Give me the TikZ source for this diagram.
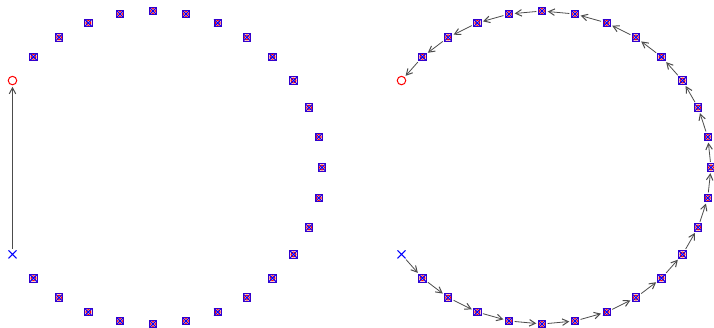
\documentclass[tikz,border=0pt]{standalone}
\usetikzlibrary{arrows.meta,shapes.misc}
\begin{document}
\begin{tikzpicture}[x=1pt,y=-1pt,
  mk/.style={rectangle,draw=blue!80!red,line width=0.8pt,minimum size=7.5pt,inner sep=0pt,fill=red!20,
    path picture={\draw[red,line width=0.9pt] (path picture bounding box.center) circle (2.4pt);
      \draw[blue,line width=1pt] (path picture bounding box.south west)--(path picture bounding box.north east)
        (path picture bounding box.north west)--(path picture bounding box.south east);}},
  startmk/.style={cross out,draw=blue,line width=1pt,minimum size=7pt,inner sep=0pt},
  endmk/.style={circle,draw=red,line width=1pt,minimum size=8.5pt,inner sep=0pt},
  arr/.style={draw=black!70,line width=0.8pt,-{Straight Barb[length=6pt,width=6.5pt,line width=1pt]},shorten >=1.5pt,shorten <=1.5pt}]
\useasboundingbox (0,0) rectangle (714,328);
\foreach \side/\cx in {L/153,R/542}{
  \foreach \k in {19,...,45}{
    \pgfmathsetmacro{\px}{\cx+169*cos(\k*11.25)}
    \pgfmathsetmacro{\py}{167.5-156.5*sin(\k*11.25)}
    \ifnum\k=19
      \node[startmk] (\side\k) at (\px,\py) {};
    \else\ifnum\k=45
      \node[endmk] (\side\k) at (\px,\py) {};
    \else
      \node[mk] (\side\k) at (\px,\py) {};
    \fi\fi
  }
}
\draw[arr] (L19) -- (L45);
\foreach \k in {19,...,44}{
  \pgfmathtruncatemacro{\n}{\k+1}
  \draw[arr] (R\k) -- (R\n);
}
\end{tikzpicture}
\end{document}
